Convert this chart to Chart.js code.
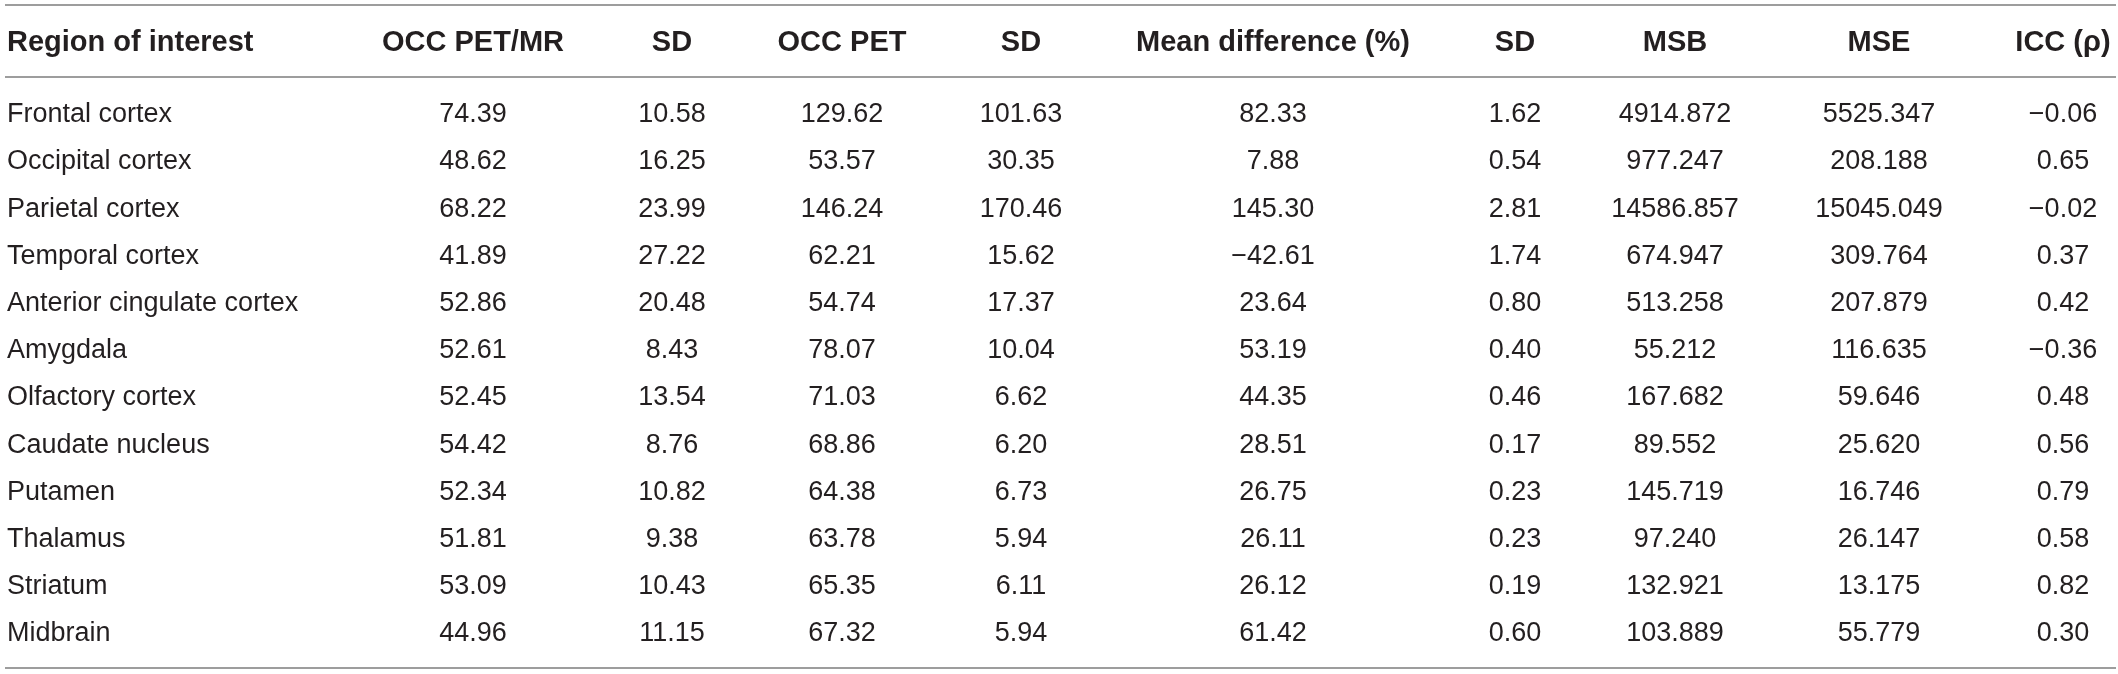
<!DOCTYPE html>
<html>
<head>
<meta charset="utf-8">
<script src="https://cdn.jsdelivr.net/npm/chart.js@4.4.1/dist/chart.umd.min.js"></script>
<style>
  html, body { margin: 0; padding: 0; background: #fff; }
  #table { display: block; }
</style>
</head>
<body>
<canvas id="table" width="2118" height="674"></canvas>
<script>
// table content
var headers = ["Region of interest", "OCC PET/MR", "SD", "OCC PET", "SD",
  "Mean difference (%)", "SD", "MSB", "MSE", "ICC (\u03C1)"];
var regions = ["Frontal cortex", "Occipital cortex", "Parietal cortex", "Temporal cortex",
  "Anterior cingulate cortex", "Amygdala", "Olfactory cortex", "Caudate nucleus",
  "Putamen", "Thalamus", "Striatum", "Midbrain"];
var occPetMr = [74.39, 48.62, 68.22, 41.89, 52.86, 52.61, 52.45, 54.42, 52.34, 51.81, 53.09, 44.96];
var occPetMrSd = [10.58, 16.25, 23.99, 27.22, 20.48, 8.43, 13.54, 8.76, 10.82, 9.38, 10.43, 11.15];
var occPet = [129.62, 53.57, 146.24, 62.21, 54.74, 78.07, 71.03, 68.86, 64.38, 63.78, 65.35, 67.32];
var occPetSd = [101.63, 30.35, 170.46, 15.62, 17.37, 10.04, 6.62, 6.20, 6.73, 5.94, 6.11, 5.94];
var meanDiff = [82.33, 7.88, 145.30, -42.61, 23.64, 53.19, 44.35, 28.51, 26.75, 26.11, 26.12, 61.42];
var meanDiffSd = [1.62, 0.54, 2.81, 1.74, 0.80, 0.40, 0.46, 0.17, 0.23, 0.23, 0.19, 0.60];
var msb = [4914.872, 977.247, 14586.857, 674.947, 513.258, 55.212, 167.682, 89.552, 145.719, 97.240, 132.921, 103.889];
var mse = [5525.347, 208.188, 15045.049, 309.764, 207.879, 116.635, 59.646, 25.620, 16.746, 26.147, 13.175, 55.779];
var icc = [-0.06, 0.65, -0.02, 0.37, 0.42, -0.36, 0.48, 0.56, 0.79, 0.58, 0.82, 0.30];

var valueColumns = [occPetMr, occPetMrSd, occPet, occPetSd, meanDiff, meanDiffSd, msb, mse, icc];
var decimals = [2, 2, 2, 2, 2, 2, 3, 3, 2];

// layout (x in canvas units, y in row units)
var colX = [7, 473, 672, 842, 1021, 1273, 1515, 1675, 1879, 2063];
var headerRow = -1.515;
var ruleRows = [-2.28, -0.75, 11.77];
var textColor = "#231f20";
var ruleColor = "#9d9d9d";
var bodyFont = { size: 27, css: "27px 'Liberation Sans', Arial, sans-serif" };
var headFont = { size: 29, css: "bold 29px 'Liberation Sans', Arial, sans-serif" };

function fmt(v, d) {
  return v.toFixed(d).replace("-", "\u2212");
}

var datasets = [];
datasets.push({
  label: "header",
  data: headers.map(function (h, i) { return { x: colX[i], y: headerRow, t: h }; }),
  cellFont: headFont
});
datasets.push({
  label: "regions",
  data: regions.map(function (r, i) { return { x: colX[0], y: i, t: r }; }),
  cellFont: bodyFont
});
valueColumns.forEach(function (col, c) {
  datasets.push({
    label: headers[c + 1],
    data: col.map(function (v, i) { return { x: colX[c + 1], y: i, t: fmt(v, decimals[c]) }; }),
    cellFont: bodyFont
  });
});
datasets.forEach(function (ds) { ds.pointRadius = 0; ds.pointHoverRadius = 0; });

var cellText = {
  id: "cellText",
  beforeDatasetsDraw: function (chart) {
    var ctx = chart.ctx, y = chart.scales.y;
    ctx.save();
    ctx.strokeStyle = ruleColor;
    ctx.lineWidth = 2;
    ruleRows.forEach(function (r) {
      var py = Math.round(y.getPixelForValue(r));
      ctx.beginPath();
      ctx.moveTo(5, py);
      ctx.lineTo(2116, py);
      ctx.stroke();
    });
    ctx.restore();
  },
  afterDatasetsDraw: function (chart) {
    var ctx = chart.ctx;
    ctx.save();
    ctx.fillStyle = textColor;
    ctx.textBaseline = "alphabetic";
    chart.data.datasets.forEach(function (ds, di) {
      var meta = chart.getDatasetMeta(di);
      ctx.font = ds.cellFont.css;
      meta.data.forEach(function (el, i) {
        // first column is left aligned, the rest centred
        ctx.textAlign = ds.data[i].x === colX[0] ? "left" : "center";
        ctx.fillText(ds.data[i].t, el.x, el.y + ds.cellFont.size * 0.358);
      });
    });
    ctx.restore();
  }
};

new Chart(document.getElementById("table").getContext("2d"), {
  type: "scatter",
  data: { datasets: datasets },
  options: {
    responsive: false,
    animation: false,
    devicePixelRatio: 1,
    layout: { padding: 0 },
    plugins: { legend: { display: false }, tooltip: { enabled: false } },
    scales: {
      x: { type: "linear", display: false, min: 0, max: 2118 },
      y: { type: "linear", display: false, reverse: true, min: -2.383, max: 11.896 }
    }
  },
  plugins: [cellText]
});
</script>
</body>
</html>
